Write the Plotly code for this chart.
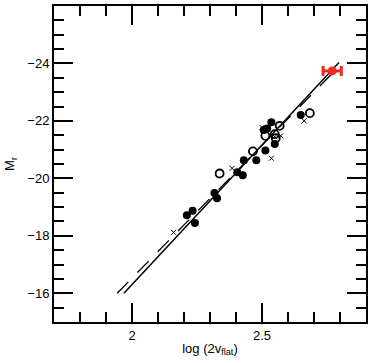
import plotly.graph_objects as go

# filled circles
filled_x = [2.211, 2.233, 2.242, 2.317, 2.327, 2.405, 2.426, 2.430, 2.478,
            2.513, 2.507, 2.520, 2.536, 2.549, 2.649]
filled_y = [-18.72, -18.87, -18.45, -19.49, -19.31, -20.21, -20.11, -20.63, -20.63,
            -20.97, -21.68, -21.74, -21.95, -21.20, -22.21]

# open circles
open_x = [2.337, 2.465, 2.513, 2.549, 2.553, 2.568, 2.684]
open_y = [-20.17, -20.94, -21.48, -21.54, -21.40, -21.83, -22.27]

# crosses
cross_x = [2.160, 2.385, 2.500, 2.536, 2.572, 2.549, 2.662]
cross_y = [-18.12, -20.35, -21.77, -20.70, -21.48, -21.45, -22.00]

# highlighted object
red_x = [2.770]
red_y = [-23.74]
red_err = [0.035]

# fit relations
solid_x = [1.969, 2.796]
solid_y = [-16.0, -24.03]
dashed_x = [1.943, 2.774]
dashed_y = [-16.0, -23.69]

fig = go.Figure()
fig.add_trace(go.Scatter(x=dashed_x, y=dashed_y, mode='lines',
                         line=dict(color='black', width=1.3, dash='16px,13px')))
fig.add_trace(go.Scatter(x=solid_x, y=solid_y, mode='lines',
                         line=dict(color='black', width=1.5)))
fig.add_trace(go.Scatter(x=filled_x, y=filled_y, mode='markers',
                         marker=dict(symbol='circle', size=8, color='black')))
fig.add_trace(go.Scatter(x=open_x, y=open_y, mode='markers',
                         marker=dict(symbol='circle-open', size=8, color='black',
                                     line=dict(width=1.8))))
fig.add_trace(go.Scatter(x=cross_x, y=cross_y, mode='markers',
                         marker=dict(symbol='x-thin-open', size=5, color='black',
                                     line=dict(width=1, color='black'))))
fig.add_trace(go.Scatter(x=red_x, y=red_y, mode='markers',
                         marker=dict(symbol='circle', size=9, color='#f02b1d'),
                         error_x=dict(type='data', array=red_err, color='#f02b1d',
                                      thickness=3, width=5)))

font = dict(family='Liberation Sans, Arial', size=13, color='black')
axis_common = dict(showgrid=False, zeroline=False, showline=True, linecolor='black',
                   linewidth=2, mirror='ticks', ticks='inside', ticklen=19,
                   tickwidth=1.8, tickcolor='black', automargin=False, tickfont=font)

fig.update_xaxes(range=[1.7, 2.9], tickmode='array', tickvals=[2, 2.5],
                 ticktext=['2', '2.5'],
                 minor=dict(ticks='inside', tickmode='linear', tick0=0, dtick=0.1,
                            ticklen=10, tickwidth=1.8, tickcolor='black'),
                 title=dict(text='log (2v<sub>flat</sub>)', standoff=2, font=font),
                 **axis_common)
fig.update_yaxes(range=[-15, -26], tickmode='array', tickvals=[-16, -18, -20, -22, -24],
                 minor=dict(ticks='inside', tickmode='linear', tick0=0, dtick=0.5,
                            ticklen=10, tickwidth=1.8, tickcolor='black'),
                 title=dict(text='M<sub>r</sub>', standoff=10, font=font),
                 **axis_common)

fig.update_layout(width=374, height=363, showlegend=False,
                  margin=dict(l=54, r=8, t=6, b=41),
                  plot_bgcolor='white', paper_bgcolor='white')

fig.write_html("out.html", config={'displayModeBar': False},
               post_script="document.body.style.margin='0';")
